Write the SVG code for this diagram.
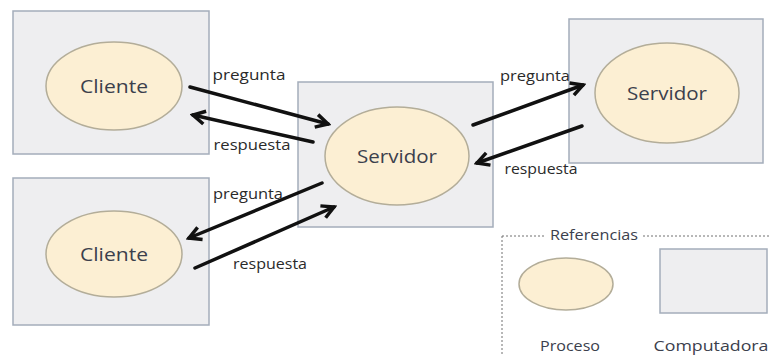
<svg xmlns="http://www.w3.org/2000/svg" width="769" height="356" viewBox="0 0 769 356">
<style>
.box{fill:#eeeef0;stroke:#a4adbb;stroke-width:1.5}
.proc{fill:#fcefd3;stroke:#b3ad99;stroke-width:1.5}
.t{font-family:"Open Sans","Liberation Sans",sans-serif;fill:#3b404c;text-anchor:middle}
.big{font-size:19px;font-weight:500}
.lbl{font-size:15px;font-weight:500;fill:#2a2a2a}
.arr{stroke:#111;stroke-width:3.5;fill:none;stroke-linecap:round;marker-end:url(#ah)}
</style>
<defs>
<marker id="ah" viewBox="0 0 18 18" refX="15" refY="9" markerWidth="18" markerHeight="18" markerUnits="userSpaceOnUse" orient="auto">
<path d="M3,2.5 L15,9 L3,15.5" fill="none" stroke="#111" stroke-width="3.5" stroke-linejoin="miter"/>
</marker>
</defs>
<rect width="769" height="356" fill="#ffffff"/>
<g id="cliente1">
<rect class="box" x="13" y="11" width="196" height="143"/>
<ellipse class="proc" cx="114" cy="86" rx="68" ry="44"/>
<text class="t big" x="114" y="93" textLength="68" lengthAdjust="spacingAndGlyphs">Cliente</text>
</g>
<g id="cliente2">
<rect class="box" x="13" y="178" width="196" height="147"/>
<ellipse class="proc" cx="114" cy="254" rx="68" ry="43"/>
<text class="t big" x="114" y="261" textLength="68" lengthAdjust="spacingAndGlyphs">Cliente</text>
</g>
<g id="servidor1">
<rect class="box" x="298" y="82" width="195" height="145"/>
<ellipse class="proc" cx="397" cy="156" rx="72" ry="49"/>
<text class="t big" x="397" y="163" textLength="80" lengthAdjust="spacingAndGlyphs">Servidor</text>
</g>
<g id="servidor2">
<rect class="box" x="569" y="19" width="194" height="144"/>
<ellipse class="proc" cx="667" cy="93" rx="72" ry="50"/>
<text class="t big" x="667" y="100" textLength="80" lengthAdjust="spacingAndGlyphs">Servidor</text>
</g>
<g id="referencias">
<path d="M502,236 H546 M643,236 H769 M502,236 V356" fill="none" stroke="#707070" stroke-width="1" stroke-dasharray="2,2"/>
<text class="t lbl" x="594" y="240" textLength="88" lengthAdjust="spacingAndGlyphs" style="fill:#3b404c">Referencias</text>
<ellipse class="proc" cx="566" cy="284" rx="47" ry="26"/>
<rect class="box" x="660" y="249" width="107" height="64"/>
<text class="t lbl" x="570" y="351" textLength="60" lengthAdjust="spacingAndGlyphs" style="fill:#3b404c">Proceso</text>
<text class="t lbl" x="711" y="351" textLength="115" lengthAdjust="spacingAndGlyphs" style="fill:#3b404c">Computadora</text>
</g>
<g id="conectores">
<line class="arr" x1="190" y1="87" x2="328" y2="124"/>
<line class="arr" x1="313" y1="142" x2="193" y2="115"/>
<line class="arr" x1="322" y1="183" x2="189" y2="238"/>
<line class="arr" x1="195" y1="268" x2="334" y2="207"/>
<line class="arr" x1="473" y1="125" x2="583" y2="85"/>
<line class="arr" x1="582" y1="126" x2="477" y2="163"/>
<text class="t lbl" x="249" y="80" textLength="73" lengthAdjust="spacingAndGlyphs">pregunta</text>
<text class="t lbl" x="252" y="150" textLength="77" lengthAdjust="spacingAndGlyphs">respuesta</text>
<text class="t lbl" x="248" y="199" textLength="70" lengthAdjust="spacingAndGlyphs">pregunta</text>
<text class="t lbl" x="270" y="269" textLength="74" lengthAdjust="spacingAndGlyphs">respuesta</text>
<text class="t lbl" x="535" y="81" textLength="70" lengthAdjust="spacingAndGlyphs">pregunta</text>
<text class="t lbl" x="541" y="174" textLength="73" lengthAdjust="spacingAndGlyphs">respuesta</text>
</g>
</svg>
